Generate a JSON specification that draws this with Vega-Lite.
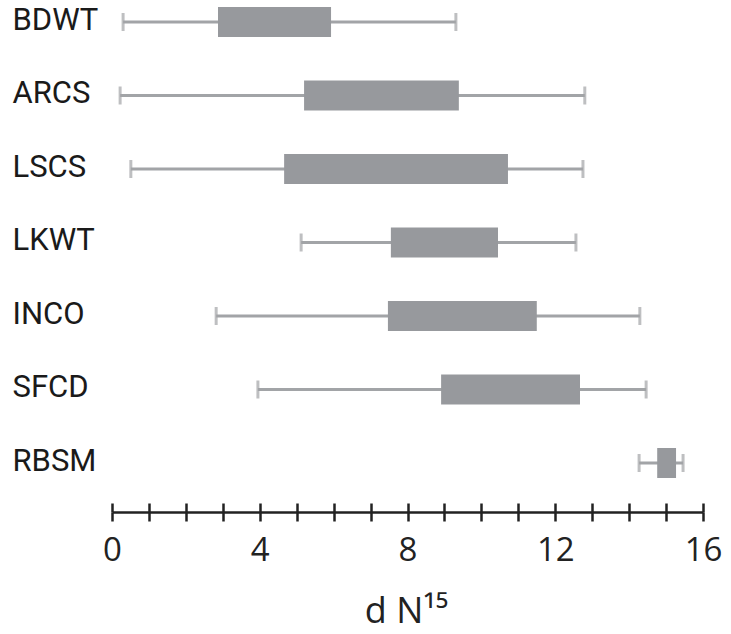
{
  "$schema": "https://vega.github.io/schema/vega-lite/v6.json",
  "width": 591,
  "height": 441,
  "autosize": "none",
  "padding": {"left": 112, "top": 22, "right": 28, "bottom": 171},
  "background": "white",
  "config": {"view": {"stroke": null}},
  "data": {
    "values": [
      {"site": "BDWT", "low": 0.30, "q1": 2.87, "q3": 5.93, "high": 9.31},
      {"site": "ARCS", "low": 0.22, "q1": 5.20, "q3": 9.39, "high": 12.80},
      {"site": "LSCS", "low": 0.51, "q1": 4.66, "q3": 10.72, "high": 12.75},
      {"site": "LKWT", "low": 5.12, "q1": 7.55, "q3": 10.45, "high": 12.56},
      {"site": "INCO", "low": 2.82, "q1": 7.47, "q3": 11.50, "high": 14.29},
      {"site": "SFCD", "low": 3.95, "q1": 8.91, "q3": 12.67, "high": 14.46},
      {"site": "RBSM", "low": 14.27, "q1": 14.76, "q3": 15.27, "high": 15.46}
    ]
  },
  "encoding": {
    "y": {
      "field": "site",
      "type": "nominal",
      "sort": null,
      "scale": {"type": "point", "padding": 0},
      "axis": {
        "title": null,
        "domain": false,
        "ticks": false,
        "grid": false,
        "labelAlign": "left",
        "labelBaseline": "middle",
        "labelPadding": 100,
        "labelOffset": -2,
        "labelFont": "Roboto",
        "labelFontSize": 31,
        "labelColor": "#1a1a1a"
      }
    }
  },
  "resolve": {"axis": {"x": "independent"}},
  "layer": [
    {
      "mark": {"type": "rule", "color": "#a2a4a7", "strokeWidth": 3},
      "encoding": {
        "x": {
          "field": "low",
          "type": "quantitative",
          "scale": {"domain": [0, 16], "nice": false, "zero": false},
          "axis": {
            "orient": "bottom",
            "offset": 49,
            "values": [0, 1, 2, 3, 4, 5, 6, 7, 8, 9, 10, 11, 12, 13, 14, 15, 16],
            "labelExpr": "datum.value % 4 === 0 ? datum.label : ''",
            "grid": false,
            "domain": true,
            "domainColor": "#222222",
            "domainWidth": 2.5,
            "tickColor": "#222222",
            "tickWidth": 2.5,
            "tickSize": 9,
            "labelPadding": 13,
            "labelFont": "Open Sans",
            "labelFontSize": 33,
            "labelColor": "#222222",
            "labelFlush": false,
            "labelOverlap": false,
            "title": "d N¹⁵",
            "titleFont": "Open Sans",
            "titleFontSize": 36,
            "titleFontWeight": "normal",
            "titleColor": "#222222",
            "titleX": 294,
            "titleY": 110,
            "titleBaseline": "alphabetic",
            "titleAlign": "center"
          }
        },
        "x2": {"field": "high"}
      }
    },
    {
      "mark": {"type": "tick", "color": "#a2a4a7", "thickness": 3, "size": 18},
      "encoding": {
        "x": {
          "field": "low",
          "type": "quantitative",
          "axis": {
            "orient": "top",
            "offset": -490,
            "values": [0, 1, 2, 3, 4, 5, 6, 7, 8, 9, 10, 11, 12, 13, 14, 15, 16],
            "labels": false,
            "domain": false,
            "grid": false,
            "tickColor": "#222222",
            "tickWidth": 2.5,
            "tickSize": 9,
            "title": null
          }
        }
      }
    },
    {
      "mark": {"type": "tick", "color": "#a2a4a7", "thickness": 3, "size": 18},
      "encoding": {
        "x": {"field": "high", "type": "quantitative", "axis": null}
      }
    },
    {
      "mark": {"type": "bar", "color": "#97999d", "size": 30},
      "encoding": {
        "x": {"field": "q1", "type": "quantitative", "axis": null},
        "x2": {"field": "q3"}
      }
    }
  ]
}
